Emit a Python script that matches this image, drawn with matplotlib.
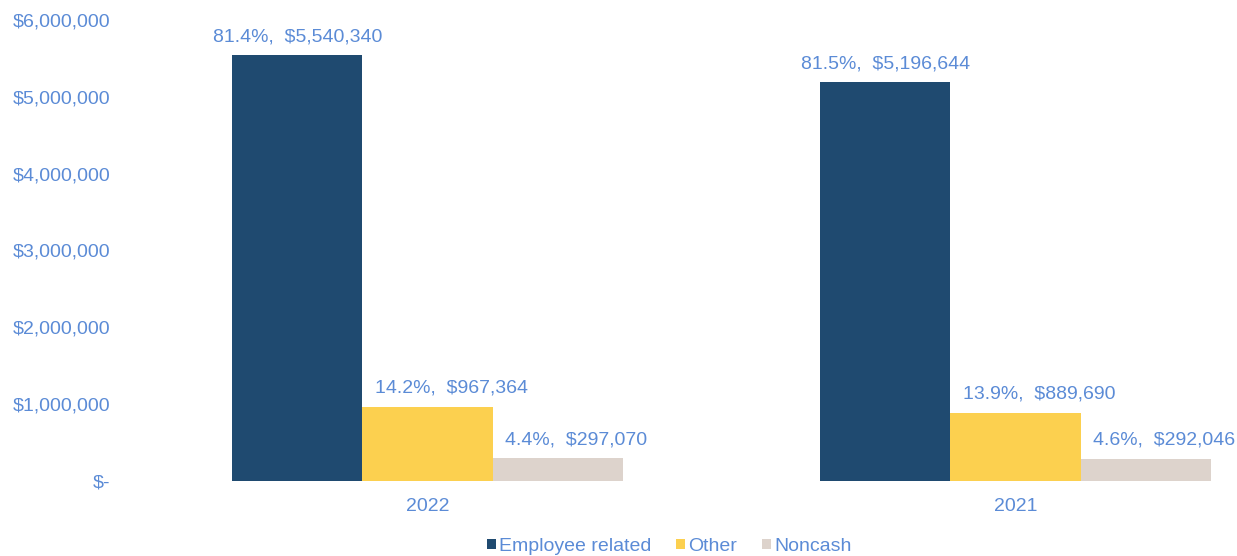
import matplotlib
matplotlib.use("Agg")
import matplotlib.pyplot as plt
import numpy as np

plt.rcParams['font.family'] = ['Liberation Sans', 'DejaVu Sans']

years = ["2022", "2021"]
series = ["Employee related", "Other", "Noncash"]
employee = [5540340, 5196644]
other = [967364, 889690]
noncash = [297070, 292046]
pcts = {"Employee related": ["81.4%", "81.5%"],
        "Other": ["14.2%", "13.9%"],
        "Noncash": ["4.4%", "4.6%"]}
yticks = [0, 1000000, 2000000, 3000000, 4000000, 5000000, 6000000]

colors = ["#1f4a70", "#fcd04f", "#ddd3cc"]
label_dx = [0, 17, 13]
txt = "#5b8bd6"

fig = plt.figure(figsize=(12.37, 5.56), dpi=100)
ax = fig.add_axes([0.105, 0.135, 0.891, 0.829])

x = np.arange(len(years))
w = 0.2215
vals = [employee, other, noncash]
for i, (name, v, c) in enumerate(zip(series, vals, colors)):
    pos = x + (i - 1) * w
    bars = ax.bar(pos, v, width=w, color=c, label=name, zorder=2)
    for j, b in enumerate(bars):
        ax.annotate(f"{pcts[name][j]},  ${v[j]:,.0f}",
                    (b.get_x() + b.get_width() / 2, b.get_height()),
                    xytext=(label_dx[i], 7), textcoords="offset points",
                    ha="center", va="bottom", color=txt, fontsize=14)

ax.set_xlim(-0.506, 1.368)
ax.set_ylim(0, 6000000)
ax.set_yticks(yticks)
ax.set_yticklabels(["$-" if t == 0 else f"${t:,.0f}" for t in yticks])
ax.set_xticks(x)
ax.set_xticklabels(years)
ax.tick_params(axis='both', length=0, labelcolor=txt, labelsize=14)
ax.tick_params(axis='y', pad=14)
ax.tick_params(axis='x', pad=12)
for s in ax.spines.values():
    s.set_visible(False)

leg = fig.legend(loc="lower center", bbox_to_anchor=(0.541, -0.03), ncol=3,
                 frameon=False, fontsize=14, handlelength=0.45, handleheight=0.45,
                 handletextpad=0.15, columnspacing=1.3)
for t in leg.get_texts():
    t.set_color(txt)

fig.savefig("out.png", dpi=100, facecolor="white")
